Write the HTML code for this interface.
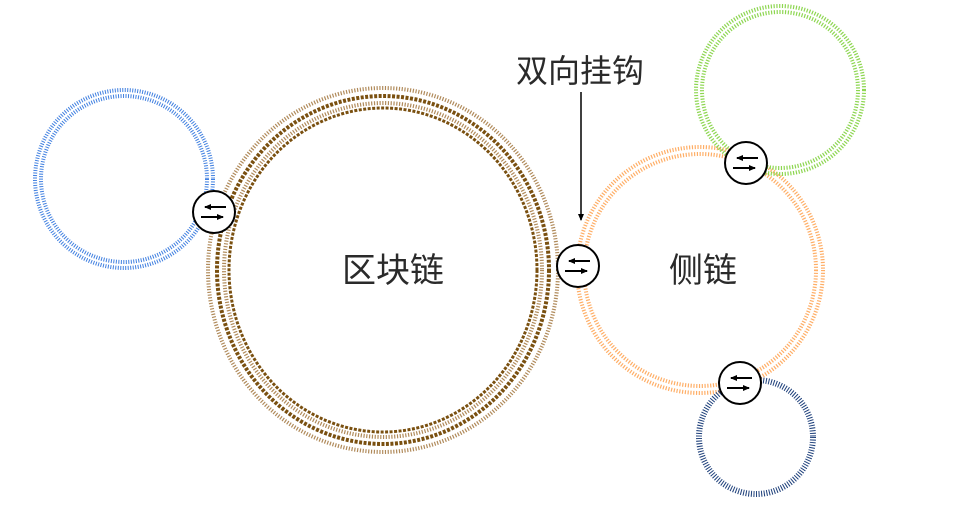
<!DOCTYPE html>
<html><head><meta charset="utf-8"><style>
html,body{margin:0;padding:0;background:#fff;width:972px;height:508px;overflow:hidden}
text{font-family:"Liberation Sans","Noto Sans CJK SC",sans-serif;fill:#2a2a2a}
</style></head><body>
<svg width="972" height="508" viewBox="0 0 972 508" xmlns="http://www.w3.org/2000/svg">
<defs>
<marker id="ah" markerWidth="8" markerHeight="8" refX="6" refY="4" orient="auto" markerUnits="userSpaceOnUse">
<path d="M0,1 L7,4 L0,7 Z" fill="#000"/></marker>
<g id="conn">
<circle r="21" fill="#fff" stroke="#000" stroke-width="2"/>
<line x1="12" y1="-5" x2="-9" y2="-5" stroke="#000" stroke-width="2" marker-end="url(#ah)"/>
<line x1="-13" y1="5" x2="9" y2="5" stroke="#000" stroke-width="2" marker-end="url(#ah)"/>
</g>
</defs>
<g fill="none">
<ellipse cx="383" cy="270" rx="175" ry="182" stroke="#b08a5a" stroke-width="4" stroke-dasharray="1.2 1.6"/>
<ellipse cx="383" cy="270" rx="166" ry="174" stroke="#7a5010" stroke-width="4" stroke-dasharray="3 1.5"/>
<ellipse cx="383" cy="270" rx="159" ry="167" stroke="#b08a5a" stroke-width="4" stroke-dasharray="1.2 1.6"/>
<ellipse cx="383" cy="270" rx="154" ry="162" stroke="#7a5010" stroke-width="3" stroke-dasharray="3 1.5"/>
<circle cx="124" cy="179" r="89" stroke="#3f7fe0" stroke-width="4" stroke-dasharray="1 1.5"/>
<circle cx="124" cy="179" r="83" stroke="#3f7fe0" stroke-width="4" stroke-dasharray="1 1.5"/>
<circle cx="700" cy="270" r="123" stroke="#ffae66" stroke-width="4" stroke-dasharray="1.2 1.6"/>
<circle cx="700" cy="270" r="116" stroke="#ffae66" stroke-width="4" stroke-dasharray="1.2 1.6"/>
<circle cx="780" cy="90" r="84" stroke="#8dd650" stroke-width="4" stroke-dasharray="1.2 1.6"/>
<circle cx="780" cy="90" r="78" stroke="#8dd650" stroke-width="4" stroke-dasharray="1.2 1.6"/>
<circle cx="756" cy="437" r="57" stroke="#1d3f7a" stroke-width="6" stroke-dasharray="1 1.6"/>
</g>
<use href="#conn" x="214" y="212"/>
<use href="#conn" x="578" y="266"/>
<use href="#conn" x="746" y="163"/>
<use href="#conn" x="740" y="383"/>
<line x1="581" y1="92" x2="581" y2="220" stroke="#000" stroke-width="1.5" marker-end="url(#ah)"/>
<text x="393" y="282" font-size="34" text-anchor="middle">区块链</text>
<text x="703" y="282" font-size="34" text-anchor="middle">侧链</text>
<text x="580" y="82" font-size="32" text-anchor="middle">双向挂钩</text>
</svg>
</body></html>
